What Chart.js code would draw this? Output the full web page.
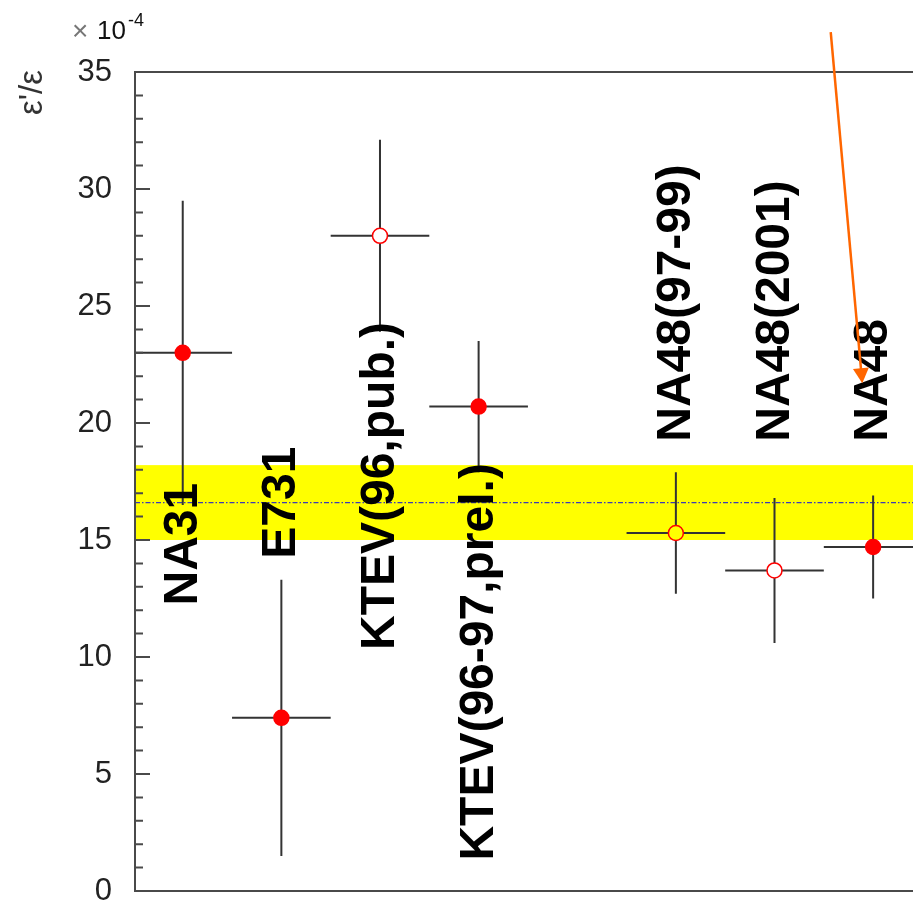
<!DOCTYPE html>
<html>
<head>
<meta charset="utf-8">
<script src="https://cdn.jsdelivr.net/npm/chart.js@4"></script>
<style>
  html, body { margin: 0; padding: 0; background: #fff; overflow: hidden; }
  #myChart { display: block; }
</style>
</head>
<body>
<canvas id="myChart" width="913" height="903"></canvas>
<script>
// experiments and their eps'/eps results (units of 1e-4)
const labels = ["NA31", "E731", "KTEV(96,pub.)", "KTEV(96-97,prel.)", "NA48(97-99)", "NA48(2001)", "NA48"];
const xPos = [1, 2, 3, 4, 6, 7, 8];
const values = [23.0, 7.4, 28.0, 20.7, 15.3, 13.7, 14.7];
const errors = [6.5, 5.9, 4.1, 2.8, 2.6, 3.1, 2.2];
const xErrors = [0.5, 0.5, 0.5, 0.5, 0.5, 0.5, 0.5];
const filled = [true, true, false, true, false, false, true];

// world average band
const bandMean = 16.6;
const bandErr = 1.6;

const yTicks = [0, 5, 10, 15, 20, 25, 30, 35];

// where each rotated label starts (y value at the start of the text)
const labelStart = [12.2, 14.2, 10.3, 1.3, 19.2, 19.2, 19.2];

const FONT = "'Liberation Sans', Arial, sans-serif";
const ctxEl = document.querySelector("#myChart");

const zeroPad = (scale) => {
    scale.paddingTop = 0;
    scale.paddingBottom = 0;
    scale.paddingLeft = 0;
    scale.paddingRight = 0;
};

const drawPlugin = {
    id: "physDraw",
    beforeDatasetsDraw: (chart) => {
        const { ctx, chartArea: a } = chart;
        const xs = chart.scales.x;
        const ys = chart.scales.y;
        const right = chart.width; // frame runs off the right edge
        ctx.save();

        // yellow band
        const yTop = ys.getPixelForValue(bandMean + bandErr);
        const yBot = ys.getPixelForValue(bandMean - bandErr);
        ctx.fillStyle = "#ffff00";
        ctx.fillRect(a.left, yTop, right - a.left, yBot - yTop);

        // dashed mean line
        const yM = ys.getPixelForValue(bandMean);
        ctx.strokeStyle = "#3b3bb5";
        ctx.lineWidth = 1.3;
        ctx.setLineDash([5, 2, 1.5, 2]);
        ctx.beginPath();
        ctx.moveTo(a.left, yM);
        ctx.lineTo(right, yM);
        ctx.stroke();
        ctx.setLineDash([]);

        // error bars
        ctx.strokeStyle = "#333";
        ctx.lineWidth = 2;
        values.forEach((v, i) => {
            const px = xs.getPixelForValue(xPos[i]);
            const py = ys.getPixelForValue(v);
            ctx.beginPath();
            ctx.moveTo(px, ys.getPixelForValue(v + errors[i]));
            ctx.lineTo(px, ys.getPixelForValue(v - errors[i]));
            ctx.moveTo(Math.max(a.left, xs.getPixelForValue(xPos[i] - xErrors[i])), py);
            ctx.lineTo(Math.min(right, xs.getPixelForValue(xPos[i] + xErrors[i])), py);
            ctx.stroke();
        });

        // frame
        ctx.strokeStyle = "#4a4a4a";
        ctx.lineWidth = 2;
        ctx.beginPath();
        ctx.moveTo(right, a.top);
        ctx.lineTo(a.left, a.top);
        ctx.lineTo(a.left, a.bottom);
        ctx.lineTo(right, a.bottom);
        ctx.stroke();

        // inward ticks, minor every 1
        ctx.beginPath();
        for (let v = ys.min; v <= ys.max; v++) {
            const py = ys.getPixelForValue(v);
            const len = v % 5 === 0 ? 15 : 8;
            ctx.moveTo(a.left, py);
            ctx.lineTo(a.left + len, py);
        }
        ctx.stroke();
        ctx.restore();
    },
    afterDatasetsDraw: (chart) => {
        const { ctx, chartArea: a } = chart;
        const xs = chart.scales.x;
        const ys = chart.scales.y;
        ctx.save();

        // rotated experiment labels
        ctx.fillStyle = "#000";
        ctx.font = "bold 48px " + FONT;
        ctx.textAlign = "left";
        ctx.textBaseline = "alphabetic";
        labels.forEach((lab, i) => {
            ctx.save();
            ctx.translate(xs.getPixelForValue(xPos[i]) - 3 + 17, ys.getPixelForValue(labelStart[i]));
            ctx.rotate(-Math.PI / 2);
            ctx.fillText(lab, 0, 0);
            ctx.restore();
        });

        // orange arrow pointing at NA48
        const x0 = xs.getPixelForValue(7.57), y0 = ys.getPixelForValue(36.7);
        const x1 = xs.getPixelForValue(7.89), y1 = ys.getPixelForValue(21.7);
        const ang = Math.atan2(y1 - y0, x1 - x0);
        ctx.strokeStyle = "#ff6600";
        ctx.fillStyle = "#ff6600";
        ctx.lineWidth = 2.5;
        ctx.beginPath();
        ctx.moveTo(x0, y0);
        ctx.lineTo(x1 - 12 * Math.cos(ang), y1 - 12 * Math.sin(ang));
        ctx.stroke();
        ctx.beginPath();
        ctx.moveTo(x1, y1);
        ctx.lineTo(x1 - 15 * Math.cos(ang) + 8 * Math.sin(ang), y1 - 15 * Math.sin(ang) - 8 * Math.cos(ang));
        ctx.lineTo(x1 - 15 * Math.cos(ang) - 8 * Math.sin(ang), y1 - 15 * Math.sin(ang) + 8 * Math.cos(ang));
        ctx.closePath();
        ctx.fill();

        // y title
        ctx.save();
        ctx.translate(42, a.top - 2);
        ctx.rotate(-Math.PI / 2);
        ctx.textAlign = "right";
        ctx.textBaseline = "alphabetic";
        ctx.fillStyle = "#333";
        ctx.font = "33px " + FONT;
        ctx.fillText("\u03b5'/\u03b5", 0, 0);
        ctx.restore();

        // multiplier
        ctx.textAlign = "left";
        ctx.textBaseline = "alphabetic";
        ctx.fillStyle = "#777";
        ctx.font = "28px " + FONT;
        ctx.fillText("\u00d7", 72, 40);
        ctx.fillStyle = "#111";
        ctx.font = "26px " + FONT;
        ctx.fillText("10", 97, 39);
        ctx.font = "18px " + FONT;
        ctx.fillText("-4", 128, 26);
        ctx.restore();
    },
};

new Chart(ctxEl, {
    type: "scatter",
    data: {
        datasets: [
            {
                data: xPos.map((x, i) => ({ x: x, y: values[i] })),
                pointRadius: 7.5,
                pointHoverRadius: 7.5,
                pointBorderWidth: 1.5,
                pointBorderColor: "#ff0000",
                pointBackgroundColor: values.map((v, i) => {
                    if (filled[i]) {
                        return "#ff0000";
                    } else if (Math.abs(v - bandMean) <= bandErr) {
                        return "#ffff00";
                    } else {
                        return "#ffffff";
                    }
                }),
            },
        ],
    },
    options: {
        responsive: false,
        animation: false,
        devicePixelRatio: 1,
        layout: { padding: { top: 72, bottom: 12, left: 0, right: 0 } },
        plugins: {
            legend: false,
            tooltip: { enabled: false },
        },
        scales: {
            x: {
                type: "linear",
                min: 0.516,
                max: 8.313,
                display: false,
                afterFit: zeroPad,
            },
            y: {
                min: 0,
                max: 35,
                afterBuildTicks: (scale) => {
                    scale.ticks = yTicks.map((v) => ({ value: v }));
                },
                afterFit: (scale) => {
                    scale.width = 135;
                    zeroPad(scale);
                },
                ticks: {
                    color: "#222",
                    padding: 23,
                    font: { family: FONT, size: 31 },
                },
                grid: { display: false, drawTicks: false },
                border: { display: false },
            },
        },
    },
    plugins: [drawPlugin],
});
</script>
</body>
</html>
